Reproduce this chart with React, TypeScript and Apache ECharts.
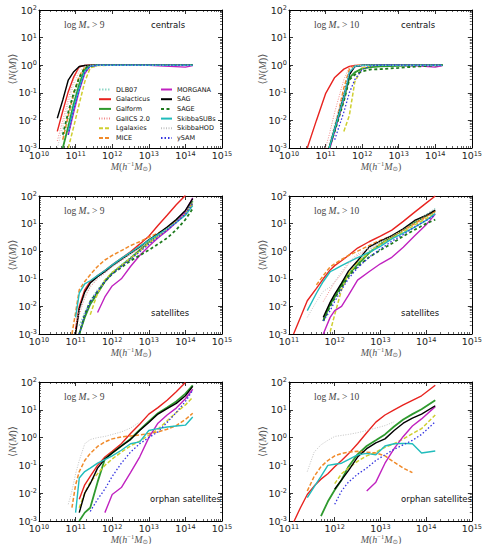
import React, { useEffect, useRef } from "react";
import * as echarts from "echarts";

const n = null;

const SERIES_NAMES = [
  "DLB07", "Galacticus", "Galform", "GalICS 2.0", "Lgalaxies", "MICE",
  "MORGANA", "SAG", "SAGE", "SkibbaSUBs", "SkibbaHOD", "ySAM",
];

// log10(M) grids for each panel
const MASS_C9 = [10.5, 10.65, 10.8, 10.95, 11.1, 11.25, 11.4, 11.6, 12, 13, 14, 14.2];
const MASS_C10 = [10.5, 10.75, 11.0, 11.1, 11.25, 11.5, 11.65, 11.8, 12.0, 12.25, 12.5, 13, 13.5, 14, 14.2];
const MASS_S9 = [10.9, 11.0, 11.1, 11.25, 11.4, 11.6, 11.8, 12.0, 12.25, 12.5, 12.75, 13.0, 13.25, 13.5, 13.75, 14.0, 14.2];
const MASS_S10 = [11.1, 11.2, 11.4, 11.6, 11.75, 11.9, 12.0, 12.15, 12.3, 12.5, 12.75, 13.0, 13.25, 13.5, 13.75, 14.0, 14.2];
const MASS_O9 = [10.8, 10.9, 11.0, 11.1, 11.25, 11.4, 11.6, 11.8, 12.0, 12.25, 12.5, 12.75, 13.0, 13.25, 13.5, 13.75, 14.0, 14.2];
const MASS_O10 = [11.1, 11.25, 11.4, 11.55, 11.7, 11.85, 12.0, 12.15, 12.3, 12.5, 12.7, 12.9, 13.1, 13.3, 13.5, 13.7, 13.9, 14.2];

const CENTRALS_9: Record<string, (number | null)[]> = {
  "DLB07": [n, 0.002, 0.012, 0.07, 0.3, 0.75, 0.95, 1, 1, 1, 1, 1],
  "Galacticus": [0.004, 0.022, 0.11, 0.38, 0.88, 0.98, 1, 1, 1, 1, 1, 1],
  "Galform": [n, 0.001, 0.006, 0.04, 0.2, 0.7, 0.95, 1, 1, 1, 1, 1],
  "GalICS 2.0": [0.0018, 0.01, 0.06, 0.3, 0.8, 0.97, 1, 1, 1, 1, 1, 1],
  "Lgalaxies": [n, n, 0.001, 0.006, 0.04, 0.25, 0.8, 0.97, 1, 1, 1, 1],
  "MICE": [n, 0.002, 0.015, 0.1, 0.4, 0.85, 0.97, 1, 1, 1, 1, 1],
  "MORGANA": [n, n, 0.003, 0.02, 0.12, 0.5, 0.92, 1, 1, 1, 0.85, 0.97],
  "SAG": [0.012, 0.055, 0.29, 0.58, 0.9, 0.97, 1, 1, 1, 1, 1, 1],
  "SAGE": [n, 0.003, 0.02, 0.1, 0.35, 0.8, 0.95, 1, 1, 1, 1, 1],
  "SkibbaSUBs": [n, n, 0.004, 0.03, 0.15, 0.6, 0.93, 1, 1, 1, 1, 1],
  "SkibbaHOD": [0.001, 0.006, 0.04, 0.2, 0.6, 0.9, 1, 1, 1, 1, 1, 1],
  "ySAM": [n, n, 0.003, 0.025, 0.13, 0.55, 0.92, 1, 1, 1, 1, 1],
};

const CENTRALS_10: Record<string, (number | null)[]> = {
  "DLB07": [n, n, n, 0.0008, 0.004, 0.06, 0.5, 0.9, 0.98, 1, 1, 1, 1, 1, 1],
  "Galacticus": [0.001, 0.01, 0.093, 0.16, 0.36, 0.72, 0.9, 0.98, 1, 1, 1, 1, 1, 1, 1],
  "Galform": [n, n, n, 0.001, 0.005, 0.06, 0.35, 0.55, 0.75, 0.85, 0.9, 0.95, 0.98, 1, 1],
  "GalICS 2.0": [n, n, 0.001, 0.003, 0.02, 0.3, 0.85, 0.97, 1, 1, 1, 1, 1, 1, 1],
  "Lgalaxies": [n, n, n, n, n, 0.004, 0.015, 0.25, 0.8, 0.97, 1, 1, 1, 1, 1],
  "MICE": [n, n, n, 0.001, 0.005, 0.15, 0.7, 0.95, 1, 1, 1, 1, 1, 1, 1],
  "MORGANA": [n, n, n, 0.0008, 0.004, 0.06, 0.5, 0.9, 0.98, 1, 1, 1, 0.95, 0.85, 0.97],
  "SAG": [n, n, n, 0.001, 0.005, 0.08, 0.45, 0.9, 0.99, 1, 1, 1, 1, 1, 1],
  "SAGE": [n, n, n, 0.001, 0.004, 0.05, 0.3, 0.45, 0.6, 0.7, 0.72, 0.8, 0.9, 0.97, 1],
  "SkibbaSUBs": [n, n, n, 0.001, 0.005, 0.07, 0.55, 0.92, 1, 1, 1, 1, 1, 1, 1],
  "SkibbaHOD": [n, n, n, 0.0015, 0.008, 0.1, 0.6, 0.93, 1, 1, 1, 1, 1, 1, 1],
  "ySAM": [n, n, n, n, 0.002, 0.02, 0.1, 0.3, 0.7, 0.95, 1, 1, 1, 1, 1],
};

const SATELLITES_9: Record<string, (number | null)[]> = {
  "DLB07": [n, n, 0.002, 0.006, 0.016, 0.04, 0.09, 0.17, 0.32, 0.6, 1.1, 2.1, 3.7, 6.5, 12, 25, 55],
  "Galacticus": [n, 0.0015, 0.01, 0.04, 0.08, 0.13, 0.2, 0.32, 0.55, 0.95, 1.8, 3.5, 8.5, 20, 48, 105, n],
  "Galform": [n, n, 0.001, 0.004, 0.012, 0.03, 0.08, 0.16, 0.3, 0.55, 1.1, 2.1, 3.8, 6.5, 13, 27, 65],
  "GalICS 2.0": [n, 0.001, 0.005, 0.02, 0.05, 0.1, 0.16, 0.27, 0.45, 0.75, 1.2, 2, 3.4, 6, 11, 22, 50],
  "Lgalaxies": [n, n, n, n, 0.005, 0.03, 0.09, 0.17, 0.3, 0.55, 1.0, 1.9, 3.4, 6, 11, 22, 50],
  "MICE": [0.001, 0.006, 0.04, 0.08, 0.14, 0.28, 0.48, 0.7, 1.05, 1.6, 2.2, 3.2, 4.5, 7, 12, 22, 55],
  "MORGANA": [n, n, n, n, n, 0.006, 0.022, 0.055, 0.1, 0.28, 0.7, 1.5, 3, 5.5, 11, 28, 85],
  "SAG": [n, 0.001, 0.008, 0.033, 0.07, 0.12, 0.18, 0.3, 0.5, 0.85, 1.4, 2.6, 4.3, 7.5, 14, 30, 80],
  "SAGE": [n, n, 0.001, 0.005, 0.015, 0.035, 0.08, 0.15, 0.26, 0.45, 0.7, 1.1, 1.8, 3, 6, 14, 35],
  "SkibbaSUBs": [n, 0.004, 0.03, 0.065, 0.085, 0.13, 0.2, 0.32, 0.55, 0.9, 1.5, 2.5, 4, 6.5, 11, 20, 45],
  "SkibbaHOD": [n, 0.002, 0.007, 0.025, 0.055, 0.1, 0.17, 0.28, 0.48, 0.8, 1.3, 2.2, 3.6, 6.5, 12, 25, 60],
  "ySAM": [n, n, 0.001, 0.005, 0.014, 0.035, 0.08, 0.15, 0.28, 0.5, 0.95, 1.8, 3.2, 5.8, 11, 22, 55],
};

const SATELLITES_10: Record<string, (number | null)[]> = {
  "DLB07": [n, n, n, n, 0.003, 0.013, 0.025, 0.07, 0.16, 0.4, 1.0, 2.0, 3.5, 6.5, 12, 21, 35],
  "Galacticus": [0.001, 0.0025, 0.016, 0.045, 0.1, 0.21, 0.3, 0.45, 0.7, 1.3, 2.2, 3.5, 5.8, 12, 26, 55, 100],
  "Galform": [n, n, n, n, 0.003, 0.012, 0.022, 0.06, 0.14, 0.33, 0.85, 1.8, 3.3, 6, 11, 19, 28],
  "GalICS 2.0": [n, n, n, n, 0.015, 0.04, 0.075, 0.15, 0.35, 0.7, 1.2, 1.8, 3, 5, 9, 16, 28],
  "Lgalaxies": [n, n, n, n, n, 0.0012, 0.005, 0.04, 0.15, 0.4, 0.9, 1.8, 3, 5, 9, 15, 24],
  "MICE": [n, n, n, 0.06, 0.13, 0.27, 0.35, 0.5, 0.7, 1.0, 1.6, 2.5, 3.5, 6, 10, 18, 28],
  "MORGANA": [n, n, n, n, 0.001, 0.004, 0.007, 0.01, 0.025, 0.09, 0.18, 0.35, 0.6, 1.4, 3.6, 9, 22],
  "SAG": [n, n, n, n, 0.004, 0.014, 0.028, 0.07, 0.19, 0.45, 1.4, 2.3, 3.7, 6.5, 13, 20, 31],
  "SAGE": [n, n, n, n, 0.003, 0.01, 0.02, 0.05, 0.12, 0.28, 0.6, 1.1, 1.9, 3.5, 6, 10, 14],
  "SkibbaSUBs": [n, n, 0.007, 0.03, 0.08, 0.18, 0.22, 0.3, 0.4, 0.58, 0.9, 1.5, 2.8, 4.5, 7.5, 13, 23],
  "SkibbaHOD": [n, n, 0.004, 0.015, 0.035, 0.05, 0.08, 0.18, 0.4, 0.8, 1.3, 2.2, 3.5, 6, 11, 20, 35],
  "ySAM": [n, n, n, n, 0.003, 0.007, 0.015, 0.04, 0.1, 0.25, 0.6, 1.2, 2.3, 4, 7.5, 13, 20],
};

const ORPHANS_9: Record<string, (number | null)[]> = {
  "Galacticus": [n, n, n, 0.006, 0.02, 0.04, 0.1, 0.2, 0.32, 0.6, 1.4, 3, 7, 12, 22, 45, 95, n],
  "Galform": [n, n, n, 0.001, 0.002, 0.003, 0.025, 0.17, 0.28, 0.5, 0.9, 1.9, 3.8, 7.5, 12, 20, 38, 75],
  "Lgalaxies": [n, n, n, 0.003, 0.01, 0.025, 0.05, 0.1, 0.17, 0.3, 0.5, 0.75, 1.2, 2, 4, 8, 15, 28],
  "MICE": [n, 0.003, 0.02, 0.06, 0.15, 0.27, 0.48, 0.7, 0.9, 1.05, 1.15, 1.25, 1.4, 1.6, 2.0, 2.7, 4.5, 7.5],
  "MORGANA": [n, n, n, n, n, n, n, 0.002, 0.009, 0.016, 0.055, 0.2, 1.0, 3.3, 6.5, 11.5, 25, 55],
  "SAG": [n, n, n, 0.002, 0.01, 0.022, 0.08, 0.17, 0.28, 0.5, 0.85, 1.8, 3.5, 7, 11, 17, 32, 70],
  "SkibbaSUBs": [n, n, 0.002, 0.035, 0.06, 0.08, 0.12, 0.16, 0.22, 0.35, 0.6, 0.7, 1.8, 2.1, 2.4, 2.6, 2.8, 5.5],
  "SkibbaHOD": [0.004, 0.012, 0.05, 0.15, 0.6, 0.85, 1.0, 1.1, 1.3, 1.6, 2.2, 3.6, n, n, n, n, n, n],
  "ySAM": [n, n, n, n, n, 0.0022, 0.006, 0.014, 0.04, 0.12, 0.3, 0.6, 1.0, 1.6, 3.5, 8, 20, 50],
};

const ORPHANS_10: Record<string, (number | null)[]> = {
  "Galacticus": [0.0009, 0.003, 0.009, 0.018, 0.032, 0.05, 0.09, 0.15, 0.26, 0.6, 1.5, 3.6, 6.5, 10, 15, 22, 32, 76],
  "Galform": [n, n, n, n, 0.0015, 0.005, 0.013, 0.03, 0.09, 0.25, 0.5, 0.8, 1.3, 2.5, 4.5, 7, 10.5, 22],
  "Lgalaxies": [n, n, n, n, n, n, 0.022, 0.05, 0.08, 0.14, 0.22, 0.3, 0.45, 0.6, 0.9, 1.4, 2.1, 6.5],
  "MICE": [n, n, 0.012, 0.04, 0.09, 0.15, 0.22, 0.27, 0.3, 0.32, 0.3, 0.28, 0.22, 0.13, 0.08, 0.055, n, n],
  "MORGANA": [n, n, n, n, n, n, n, n, n, n, 0.012, 0.025, 0.12, 0.4, 1.1, 2.6, 4.7, 13],
  "SAG": [n, n, n, n, n, n, 0.014, 0.03, 0.065, 0.2, 0.4, 0.65, 0.9, 1.8, 3.3, 5, 7, 14],
  "SkibbaSUBs": [n, n, 0.007, 0.017, 0.04, 0.1, 0.11, 0.12, 0.16, 0.24, 0.27, 0.24, 0.5, 0.6, 0.62, 0.6, 0.28, 0.33],
  "SkibbaHOD": [n, n, 0.06, 0.3, 0.55, 0.8, 1.1, 1.2, 1.3, 1.5, 1.8, 2.2, 2.7, 3.7, n, n, n, n],
  "ySAM": [n, n, n, n, n, n, 0.004, 0.012, 0.025, 0.048, 0.08, 0.15, 0.24, 0.38, 0.55, 0.8, 1.3, 3.7],
};

const X_MINS = [1e10, 1e10, 1e10, 1e11, 1e10, 1e11];
const THRESHOLDS = ["9", "10", "9", "10", "9", "10"];
const PANEL_LABELS = ["centrals", "centrals", "satellites", "satellites", "orphan satellites", "orphan satellites"];

const STYLES: Record<string, { color: string; type: any; width: number }> = {
  "DLB07": { color: "#8fd8c8", type: [1.5, 1.5], width: 1.5 },
  "Galacticus": { color: "#e8231f", type: "solid", width: 1.4 },
  "Galform": { color: "#2e9a2e", type: "solid", width: 1.8 },
  "GalICS 2.0": { color: "#f28c8c", type: [1, 1.5], width: 1 },
  "Lgalaxies": { color: "#cfcf30", type: [4, 2], width: 1.5 },
  "MICE": { color: "#f08a2a", type: [4, 2], width: 1.5 },
  "MORGANA": { color: "#c022c0", type: "solid", width: 1.4 },
  "SAG": { color: "#000000", type: "solid", width: 1.4 },
  "SAGE": { color: "#1e7a1e", type: [3, 2.5], width: 1.8 },
  "SkibbaSUBs": { color: "#20bcbc", type: "solid", width: 1.4 },
  "SkibbaHOD": { color: "#c4c4c4", type: [1, 1.5], width: 1 },
  "ySAM": { color: "#3535e0", type: [1.5, 2], width: 1.3 },
};

const GRID_BOXES = [
  { left: 39, top: 10, width: 183, height: 138 },
  { left: 289, top: 10, width: 184, height: 138 },
  { left: 39, top: 196, width: 183, height: 138 },
  { left: 289, top: 196, width: 184, height: 138 },
  { left: 39, top: 382, width: 183, height: 139 },
  { left: 289, top: 382, width: 184, height: 139 },
];

const PANEL_MASS = [MASS_C9, MASS_C10, MASS_S9, MASS_S10, MASS_O9, MASS_O10];
const PANEL_DATA = [CENTRALS_9, CENTRALS_10, SATELLITES_9, SATELLITES_10, ORPHANS_9, ORPHANS_10];

function toPoints(mass: number[], vals: (number | null)[]) {
  const out: [number, number][] = [];
  mass.forEach((lg, i) => {
    const v = vals[i];
    if (v != null) out.push([Math.pow(10, lg), v]);
  });
  return out;
}

const expFmt = (v: number) => `{b|10}{s|${Math.round(Math.log10(v))}}`;
const labelRich = {
  b: { fontSize: 9.5, fontFamily: "DejaVu Sans", color: "#222", lineHeight: 11 },
  s: { fontSize: 6.5, fontFamily: "DejaVu Sans", color: "#222", lineHeight: 7, verticalAlign: "top" as const },
};

const tickCommon = (showLabel: boolean) => ({
  axisLine: { show: true, onZero: false, lineStyle: { color: "#000", width: 1 } },
  axisTick: { show: true, inside: true, length: 4, lineStyle: { color: "#000", width: 0.8 } },
  minorTick: { show: true, splitNumber: 9, length: 2, lineStyle: { color: "#000", width: 0.6 } },
  splitLine: { show: false },
  minorSplitLine: { show: false },
  axisLabel: showLabel
    ? { show: true, formatter: expFmt, rich: labelRich, margin: 2, showMinLabel: true, showMaxLabel: true, hideOverlap: false }
    : { show: false },
});

const serif = "'Liberation Serif', 'DejaVu Serif', serif";

export default function App() {
  const ref = useRef<HTMLDivElement>(null);
  useEffect(() => {
    if (!ref.current) return;
    const chart = echarts.init(ref.current, undefined, { renderer: "svg" });

    const grids = GRID_BOXES.map((g) => ({ ...g, show: false, containLabel: false }));
    const xAxes: any[] = [];
    const yAxes: any[] = [];
    const series: any[] = [];
    const graphics: any[] = [];

    GRID_BOXES.forEach((g, p) => {
      xAxes.push({ type: "log", logBase: 10, gridIndex: p, min: X_MINS[p], max: 1e15, position: "bottom", ...tickCommon(true) });
      xAxes.push({ type: "log", logBase: 10, gridIndex: p, min: X_MINS[p], max: 1e15, position: "top", ...tickCommon(false) });
      yAxes.push({ type: "log", logBase: 10, gridIndex: p, min: 1e-3, max: 1e2, position: "left", ...tickCommon(true) });
      yAxes.push({ type: "log", logBase: 10, gridIndex: p, min: 1e-3, max: 1e2, position: "right", ...tickCommon(false) });

      const data = PANEL_DATA[p];
      SERIES_NAMES.forEach((name, k) => {
        const vals = data[name];
        if (!vals) return;
        const st = STYLES[name];
        series.push({
          type: "line",
          name,
          xAxisIndex: 2 * p,
          yAxisIndex: 2 * p,
          data: toPoints(PANEL_MASS[p], vals),
          symbol: "none",
          showSymbol: false,
          clip: true,
          silent: true,
          z: 2 + k * 0.01,
          lineStyle: { color: st.color, type: st.type, width: st.width },
          itemStyle: { color: st.color },
          emphasis: { disabled: true },
        });
      });

      const leftX = g.left;
      const topY = g.top;
      graphics.push({
        type: "text",
        x: leftX + 25,
        y: topY + 15,
        style: {
          text: `{r|log }{i|M}{sub|*}{r| > ${THRESHOLDS[p]}}`,
          verticalAlign: "middle",
          rich: {
            r: { fontFamily: serif, fontSize: 9.5, fill: "#444", lineHeight: 12 },
            i: { fontFamily: serif, fontStyle: "italic", fontSize: 9.5, fill: "#444", lineHeight: 12 },
            sub: { fontFamily: serif, fontSize: 6.5, fill: "#444", lineHeight: 8, verticalAlign: "bottom" },
          },
        },
      });
      const isCentral = p < 2;
      graphics.push({
        type: "text",
        x: p >= 4 ? leftX + g.width - 1 : leftX + 112,
        y: isCentral ? topY + 15 : topY + 117,
        style: {
          text: PANEL_LABELS[p],
          fontFamily: "DejaVu Sans",
          fontSize: 8.5,
          fill: "#111",
          align: p >= 4 ? "right" : "left",
          verticalAlign: "middle",
        },
      });
      graphics.push({
        type: "text",
        x: leftX + 92,
        y: topY + g.height + 18,
        style: {
          text: "{i|M}{r|(}{i|h}{sup|−1}{i|M}{sub|⊙}{r|)}",
          align: "center",
          verticalAlign: "middle",
          rich: {
            i: { fontFamily: serif, fontStyle: "italic", fontSize: 10, fill: "#555", lineHeight: 12 },
            r: { fontFamily: serif, fontSize: 10, fill: "#555", lineHeight: 12 },
            sup: { fontFamily: serif, fontSize: 6.5, fill: "#555", lineHeight: 7, verticalAlign: "top" },
            sub: { fontFamily: "DejaVu Sans", fontSize: 6.5, fill: "#555", lineHeight: 7, verticalAlign: "bottom" },
          },
        },
      });
      graphics.push({
        type: "text",
        x: leftX - 27,
        y: topY + g.height / 2 - 10,
        rotation: Math.PI / 2,
        style: {
          text: "{r|⟨}{i|N}{r|(}{i|M}{r|)⟩}",
          align: "center",
          verticalAlign: "middle",
          rich: {
            i: { fontFamily: serif, fontStyle: "italic", fontSize: 10.5, fill: "#555" },
            r: { fontFamily: serif, fontSize: 10.5, fill: "#555" },
          },
        },
      });
    });

    const legendText = { fontFamily: "DejaVu Sans", fontSize: 6.5, color: "#111" };
    const legendBase = {
      orient: "vertical",
      top: 86,
      itemHeight: 7,
      itemGap: 2.7,
      padding: 0,
      textStyle: legendText,
      selectedMode: false,
      itemStyle: { opacity: 0 },
    };
    chart.setOption({
      animation: false,
      grid: grids,
      xAxis: xAxes,
      yAxis: yAxes,
      series,
      legend: [
        { ...legendBase, data: SERIES_NAMES.slice(0, 6), left: 98, itemWidth: 12 },
        { ...legendBase, data: SERIES_NAMES.slice(6), left: 160, itemWidth: 11 },
      ],
      graphic: graphics,
    });
    return () => chart.dispose();
  }, []);

  return (
    <div
      ref={ref}
      style={{ position: "fixed", left: 0, top: 0, width: 485, height: 544, background: "#fff" }}
    />
  );
}
